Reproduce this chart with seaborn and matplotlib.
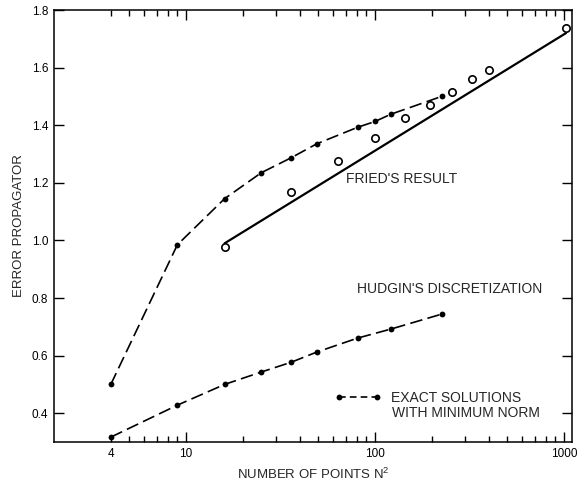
import numpy as np
import pandas as pd
import matplotlib
matplotlib.use("Agg")
import matplotlib.pyplot as plt
import seaborn as sns
from matplotlib.ticker import FixedLocator, FuncFormatter
from matplotlib.lines import Line2D

# ---- data ----
exact_fried_n2 = [4, 9, 16, 25, 36, 49, 81, 100, 121, 225]
exact_fried_val = [0.50, 0.985, 1.145, 1.235, 1.287, 1.335, 1.393, 1.413, 1.438, 1.50]

hudgin_n2 = [4, 9, 16, 25, 36, 49, 81, 121, 225]
hudgin_val = [0.317, 0.428, 0.50, 0.543, 0.577, 0.612, 0.661, 0.692, 0.744]

fried_result_n2 = [16, 36, 64, 100, 144, 196, 256, 324, 400, 1024]
fried_result_val = [0.976, 1.167, 1.277, 1.355, 1.424, 1.470, 1.517, 1.560, 1.593, 1.737]

fried_fit_n2 = [16, 1024]
fried_fit_val = [0.99, 1.72]

x_major = [10, 100, 1000]
x_minor = [4, 5, 6, 7, 8, 9, 20, 30, 40, 50, 60, 70, 80, 90,
           200, 300, 400, 500, 600, 700, 800, 900]
y_ticks = [0.4, 0.6, 0.8, 1.0, 1.2, 1.4, 1.6, 1.8]

sns.set_style("ticks")
plt.rcParams["font.family"] = ["Liberation Sans", "DejaVu Sans"]

fig = plt.figure(figsize=(5.86, 4.86), dpi=100)
ax = fig.add_axes([0.092, 0.0905, 0.884, 0.8889])

dash = (0, (7.5, 3.2))
lw = 1.2

sns.lineplot(x=exact_fried_n2, y=exact_fried_val, ax=ax, color="black",
             linewidth=lw, linestyle=dash, marker="o", markersize=4.2,
             markeredgewidth=0, errorbar=None)
sns.lineplot(x=hudgin_n2, y=hudgin_val, ax=ax, color="black",
             linewidth=lw, linestyle=dash, marker="o", markersize=4.2,
             markeredgewidth=0, errorbar=None)
sns.lineplot(x=fried_fit_n2, y=fried_fit_val, ax=ax, color="black",
             linewidth=1.6, errorbar=None)
sns.scatterplot(x=fried_result_n2, y=fried_result_val, ax=ax, s=28,
                facecolor="white", edgecolor="black", linewidth=1.2, zorder=5)

ax.set_xscale("log")
ax.set_xlim(2.0, 1100)
ax.set_ylim(0.30, 1.80)

ax.xaxis.set_major_locator(FixedLocator(x_major))
ax.xaxis.set_minor_locator(FixedLocator(x_minor))
ax.xaxis.set_major_formatter(FuncFormatter(lambda v, p: f"{v:g}"))
ax.xaxis.set_minor_formatter(FuncFormatter(lambda v, p: "4" if abs(v - 4) < 1e-9 else ""))
ax.set_yticks(y_ticks)
ax.yaxis.set_major_formatter(FuncFormatter(lambda v, p: f"{v:.1f}"))

ax.tick_params(which="both", direction="in", top=True, right=True,
               color="black", labelsize=8.5, labelcolor="black", pad=4)
ax.tick_params(which="major", length=7, width=1.0)
ax.tick_params(which="minor", length=4.5, width=1.0)

for s in ax.spines.values():
    s.set_visible(True)
    s.set_color("black")
    s.set_linewidth(1.1)

ax.set_xlabel("NUMBER OF POINTS N$^{\\mathregular{2}}$", fontsize=9.5, labelpad=5)
ax.set_ylabel("ERROR PROPAGATOR", fontsize=9.5, labelpad=5)

ax.text(69.8, 1.214, "FRIED'S RESULT", fontsize=10, ha="left", va="center")
ax.text(80.2, 0.83, "HUDGIN'S DISCRETIZATION", fontsize=10, ha="left", va="center")

handle = Line2D([], [], color="black", linewidth=lw, linestyle=(0, (4, 2.5)),
                marker="o", markersize=4.2, markeredgewidth=0)
ax.legend(handles=[handle], labels=["EXACT SOLUTIONS"], loc="center left",
          bbox_to_anchor=(0.5425, 0.1025), frameon=False, numpoints=2,
          handlelength=3.3, handletextpad=0.75, borderpad=0, borderaxespad=0,
          fontsize=10)
ax.text(0.652, 0.0664, "WITH MINIMUM NORM", transform=ax.transAxes,
        fontsize=10, ha="left", va="center")

fig.savefig("out.png", dpi=100, facecolor="white")
